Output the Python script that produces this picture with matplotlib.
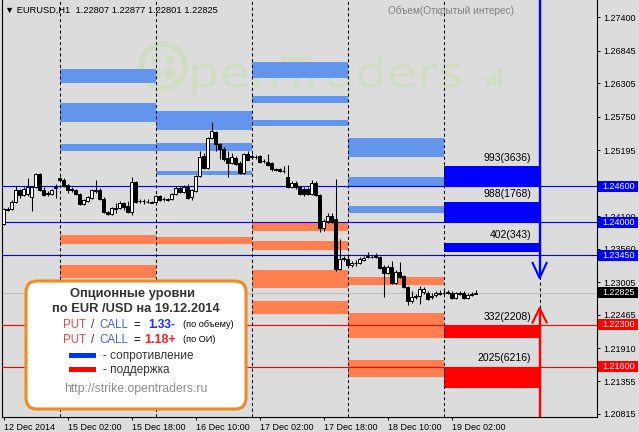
import matplotlib
matplotlib.use('Agg')
import matplotlib.pyplot as plt
import numpy as np
from matplotlib.transforms import Affine2D, blended_transform_factory
from matplotlib.patches import FancyBboxPatch, Rectangle, Circle, PathPatch
from matplotlib.textpath import TextPath
from matplotlib.font_manager import FontProperties

plt.rcParams['font.family'] = ['Liberation Sans', 'DejaVu Sans']

# ---------------- data ----------------
hours = list(range(-14, 105))  # hourly bars, 0 = 15 Dec 00:00

opens = [1.23971, 1.24221, 1.24221, 1.24338, 1.24538, 1.24455, 1.24471, 1.24421, 1.24588, 1.24805, 1.24538, 1.24471, 1.24471, 1.24571,
         1.24738, 1.24705, 1.24621, 1.24555, 1.24538, 1.24471, 1.24305, 1.24355, 1.24405, 1.24521, 1.24538, 1.24388, 1.24171, 1.24138, 1.24221, 1.24238, 1.24321, 1.24271, 1.24171, 1.24671, 1.24355, 1.24345, 1.24338, 1.24338,
         1.24338, 1.24438, 1.24388, 1.24371, 1.24388, 1.24471, 1.24571, 1.24505, 1.24588, 1.24421, 1.24521, 1.24771, 1.25105, 1.24905, 1.25405, 1.25505, 1.25305, 1.25221, 1.25071, 1.24988, 1.25071, 1.24988, 1.24821, 1.25138,
         1.25105, 1.25088, 1.25105, 1.25021, 1.25005, 1.24988, 1.24888, 1.24888, 1.24855, 1.24755, 1.24588, 1.24655, 1.24588, 1.24555, 1.24555, 1.24471, 1.24655, 1.24455, 1.23905, 1.24021, 1.24105, 1.24055, 1.23221, 1.23388,
         1.23388, 1.23288, 1.23321, 1.23321, 1.23371, 1.23421, 1.23421, 1.23421, 1.23421, 1.23255, 1.23155, 1.23255, 1.22988, 1.23171, 1.23105, 1.22921, 1.22688, 1.22755, 1.22771, 1.22838, 1.22821, 1.22755, 1.22788, 1.22821,
         1.22821, 1.22821, 1.22821, 1.22738, 1.22821, 1.22821, 1.22738, 1.22788, 1.22807]
highs = [1.24238, 1.24255, 1.24371, 1.24605, 1.24555, 1.24588, 1.24738, 1.24605, 1.24821, 1.24821, 1.24588, 1.24521, 1.24555, 1.24638,
         1.24755, 1.24738, 1.24638, 1.24588, 1.24555, 1.24488, 1.24388, 1.24438, 1.24555, 1.24705, 1.24571, 1.24421, 1.24188, 1.24255, 1.24321, 1.24355, 1.24338, 1.24355, 1.24755, 1.24688, 1.24388, 1.24388, 1.24388, 1.24355,
         1.24455, 1.24455, 1.24421, 1.24405, 1.24488, 1.24605, 1.24605, 1.24621, 1.24638, 1.24555, 1.24788, 1.25188, 1.25155, 1.25421, 1.25671, 1.25521, 1.25321, 1.25255, 1.25188, 1.25155, 1.25105, 1.25021, 1.25155, 1.25188,
         1.25138, 1.25121, 1.25121, 1.25055, 1.25138, 1.25005, 1.24905, 1.24905, 1.24938, 1.24955, 1.24688, 1.24688, 1.24605, 1.24588, 1.24588, 1.24705, 1.24688, 1.24471, 1.24055, 1.24155, 1.24155, 1.24721, 1.23721, 1.23438,
         1.23438, 1.23355, 1.23371, 1.23421, 1.23438, 1.23505, 1.23455, 1.23488, 1.23438, 1.23288, 1.23288, 1.23355, 1.23205, 1.23338, 1.23121, 1.22938, 1.22855, 1.22805, 1.22938, 1.22921, 1.22855, 1.22821, 1.22855, 1.22871,
         1.22871, 1.22871, 1.22855, 1.22838, 1.22855, 1.22855, 1.22821, 1.22838, 1.22877]
lows = [1.23955, 1.24188, 1.24205, 1.24321, 1.24405, 1.24438, 1.24438, 1.24188, 1.24571, 1.24521, 1.24438, 1.24438, 1.24455, 1.24405,
        1.24688, 1.24588, 1.24488, 1.24505, 1.24455, 1.24288, 1.24288, 1.24338, 1.24388, 1.24488, 1.24371, 1.24155, 1.24121, 1.24121, 1.24155, 1.24221, 1.24205, 1.24155, 1.24121, 1.24321, 1.24321, 1.24305, 1.24321, 1.24321,
        1.24321, 1.24355, 1.24355, 1.24355, 1.24371, 1.24455, 1.24488, 1.24488, 1.24388, 1.24371, 1.24505, 1.24755, 1.24888, 1.24888, 1.25388, 1.25188, 1.25055, 1.25021, 1.24755, 1.24971, 1.24955, 1.24805, 1.24805, 1.25038,
        1.25055, 1.25055, 1.24988, 1.24988, 1.24938, 1.24855, 1.24855, 1.24838, 1.24821, 1.24571, 1.24571, 1.24555, 1.24455, 1.24438, 1.24455, 1.24455, 1.24438, 1.23838, 1.23855, 1.23988, 1.23988, 1.23188, 1.23205, 1.23355,
        1.23255, 1.23255, 1.23271, 1.23305, 1.23355, 1.23405, 1.23405, 1.23405, 1.23221, 1.22755, 1.23138, 1.22971, 1.22971, 1.23071, 1.22905, 1.22621, 1.22655, 1.22721, 1.22638, 1.22805, 1.22705, 1.22721, 1.22755, 1.22788,
        1.22805, 1.22815, 1.22721, 1.22721, 1.22788, 1.22721, 1.22721, 1.22771, 1.22801]
closes = [1.24221, 1.24205, 1.24338, 1.24538, 1.24455, 1.24555, 1.24588, 1.24588, 1.24805, 1.24538, 1.24455, 1.24488, 1.24538, 1.24588,
          1.24705, 1.24605, 1.24538, 1.24538, 1.24471, 1.24305, 1.24371, 1.24421, 1.24538, 1.24538, 1.24388, 1.24171, 1.24138, 1.24238, 1.24238, 1.24321, 1.24255, 1.24171, 1.24671, 1.24338, 1.24345, 1.24350, 1.24330, 1.24325,
          1.24438, 1.24371, 1.24380, 1.24388, 1.24471, 1.24571, 1.24505, 1.24588, 1.24405, 1.24538, 1.24771, 1.25088, 1.24905, 1.25405, 1.25521, 1.25305, 1.25221, 1.25055, 1.24988, 1.25088, 1.24971, 1.24821, 1.25138, 1.25038,
          1.25088, 1.25080, 1.25005, 1.25015, 1.24955, 1.24888, 1.24871, 1.24855, 1.24845, 1.24588, 1.24655, 1.24588, 1.24471, 1.24471, 1.24471, 1.24655, 1.24455, 1.23905, 1.24021, 1.24105, 1.24005, 1.23221, 1.23388, 1.23405,
          1.23288, 1.23321, 1.23315, 1.23388, 1.23405, 1.23438, 1.23415, 1.23438, 1.23238, 1.23155, 1.23255, 1.22988, 1.23171, 1.23088, 1.22921, 1.22688, 1.22755, 1.22771, 1.22888, 1.22888, 1.22721, 1.22771, 1.22821, 1.22815,
          1.22830, 1.22838, 1.22738, 1.22821, 1.22812, 1.22738, 1.22788, 1.22805, 1.22825]

# option level bands of previous days (day index 0 = 15 Dec)
res_day = [0, 0, 0, 1, 1, 1, 2, 2, 2, 3, 3, 3]
res_lo = [1.26316, 1.25668, 1.25187, 1.25531, 1.25187, 1.24788, 1.26399, 1.25984, 1.25602, 1.25087, 1.24601, 1.24157]
res_hi = [1.26543, 1.25974, 1.25298, 1.25846, 1.25315, 1.24855, 1.26664, 1.26095, 1.25697, 1.25403, 1.24745, 1.24269]
sup_day = [0, 0, 1, 2, 2, 2, 2, 3, 3, 3]
sup_lo = [1.23633, 1.23078, 1.23633, 1.23859, 1.23538, 1.22902, 1.22471, 1.22957, 1.22082, 1.21435]
sup_hi = [1.23787, 1.23289, 1.23754, 1.23991, 1.23688, 1.23206, 1.22691, 1.23085, 1.22497, 1.21712]

# current day (19 Dec) levels
cur_day = 4
cur_res_lo = [1.24606, 1.24008, 1.23510]
cur_res_hi = [1.24933, 1.24340, 1.23659]
cur_res_labels = ['993(3636)', '988(1768)', '402(343)']
cur_sup_lo = [1.22082, 1.21242]
cur_sup_hi = [1.22281, 1.21591]
cur_sup_labels = ['332(2208)', '2025(6216)']

res_levels = [1.24600, 1.24000, 1.23450]
sup_levels = [1.22300, 1.21600]
last_price = 1.22825
arrow_down_tip = 1.23073
arrow_up_tip = 1.22575

y_ticks = [1.27400, 1.26845, 1.26305, 1.25750, 1.25195, 1.24650, 1.24100, 1.23560,
           1.23005, 1.22465, 1.21910, 1.21355, 1.20815]
x_tick_hours = [-14, 2, 18, 34, 50, 66, 82, 98]
x_tick_labels = ['12 Dec 2014', '15 Dec 02:00', '15 Dec 18:00', '16 Dec 10:00',
                 '17 Dec 02:00', '17 Dec 18:00', '18 Dec 10:00', '19 Dec 02:00']
day_separators = [0, 24, 48, 72, 96, 120]

# ---------------- figure ----------------
W, H = 639, 432
BG = '#DCDCDC'
LBLUE = '#6495ED'
CORAL = '#FF7F50'
BLUE = '#0000FF'
RED = '#FF0000'

fig = plt.figure(figsize=(W / 100, H / 100), dpi=100, facecolor=BG)
ax = fig.add_axes([2 / W, (H - 417) / H, 595 / W, 417 / H])
ax.set_facecolor(BG)
ax.set_xlim(-14.4, 134.35)
ax.set_ylim(1.20765, 1.27689)
PX = Affine2D().scale(1 / W, -1 / H).translate(0, 1) + fig.transFigure

# watermark
wm = '#cfdec3'
ax.add_patch(Circle((163, 66), 22, transform=PX, fill=False, ec=wm, lw=4, zorder=0.5))
ax.add_patch(Circle((156, 60), 4.5, transform=PX, fc=wm, ec='none', zorder=0.5))
ax.add_patch(Circle((170, 60), 4.5, transform=PX, fc=wm, ec='none', zorder=0.5))
ax.add_patch(Circle((156, 73), 6, transform=PX, fc=wm, ec='none', zorder=0.5))
ax.add_patch(Circle((170, 73), 6, transform=PX, fc=wm, ec='none', zorder=0.5))
tp = TextPath((0, 0), 'penTraders', size=40, prop=FontProperties(family='DejaVu Sans'))
ax.add_patch(PathPatch(tp, transform=Affine2D().scale(1.24, -1.03).translate(188, 87) + PX,
                       fc=wm, ec='none', zorder=0.5))
for bx, bh in zip([486, 492, 498], [8, 13, 18]):
    ax.add_patch(Rectangle((bx, 86 - bh), 4, bh, transform=PX, fc=wm, ec='none', zorder=0.5))

# previous-day bands
for d, lo, hi in zip(res_day, res_lo, res_hi):
    ax.bar(d * 24, hi - lo, width=24, bottom=lo, align='edge', color=LBLUE, lw=0, zorder=1)
for d, lo, hi in zip(sup_day, sup_lo, sup_hi):
    ax.bar(d * 24, hi - lo, width=24, bottom=lo, align='edge', color=CORAL, lw=0, zorder=1)
# current-day bands
for lo, hi, lab in zip(cur_res_lo, cur_res_hi, cur_res_labels):
    ax.bar(cur_day * 24, hi - lo, width=24, bottom=lo, align='edge', color=BLUE, lw=0, zorder=1)
    ax.annotate(lab, xy=(117.85, hi), xytext=(0, 3), textcoords='offset pixels',
                ha='right', va='bottom', fontsize=7.5, color='black', zorder=7)
for lo, hi, lab in zip(cur_sup_lo, cur_sup_hi, cur_sup_labels):
    ax.bar(cur_day * 24, hi - lo, width=24, bottom=lo, align='edge', color=RED, lw=0, zorder=1)
    ax.annotate(lab, xy=(117.85, hi), xytext=(0, 4), textcoords='offset pixels',
                ha='right', va='bottom', fontsize=7.5, color='black', zorder=7)

# day separators
for h in day_separators:
    ax.axvline(h, color='black', lw=0.75, ls=(0, (3, 2.5)), zorder=2)

# level lines
for lv in res_levels:
    ax.axhline(lv, color=BLUE, lw=0.8, zorder=3)
for lv in sup_levels:
    ax.axhline(lv, color=RED, lw=0.8, zorder=3)
ax.axhline(last_price, color='#C0C0C0', lw=0.8, zorder=2.5)

# candles
x = np.array(hours, dtype=float)
o = np.array(opens); hi_ = np.array(highs); lo_ = np.array(lows); c = np.array(closes)
up = c >= o
ax.vlines(x, lo_, hi_, color='black', lw=0.75, zorder=4)
blo = np.minimum(o, c)
bh = np.maximum(np.abs(c - o), 0.00002)
ax.bar(x[up], bh[up], bottom=blo[up], width=0.62, color='white', edgecolor='black', lw=0.7, zorder=5)
ax.bar(x[~up], bh[~up], bottom=blo[~up], width=0.62, color='black', edgecolor='black', lw=0.7, zorder=5)

# arrows
ytop, ybot = ax.get_ylim()[1], ax.get_ylim()[0]
ax.plot([120, 120], [ytop, arrow_down_tip], color=BLUE, lw=1.7, zorder=6, solid_capstyle='butt')
ax.plot([118.25, 120, 121.75], [arrow_down_tip + 0.0025, arrow_down_tip, arrow_down_tip + 0.0025],
        color=BLUE, lw=1.5, zorder=6)
ax.plot([120, 120], [ybot, arrow_up_tip], color=RED, lw=1.7, zorder=6, solid_capstyle='butt')
ax.plot([118.25, 120, 121.75], [arrow_up_tip - 0.0024, arrow_up_tip, arrow_up_tip - 0.0024],
        color=RED, lw=1.5, zorder=6)

# axes styling
for s in ['left', 'right', 'bottom']:
    ax.spines[s].set_color('black')
    ax.spines[s].set_linewidth(0.8)
ax.spines['top'].set_visible(False)
ax.yaxis.tick_right()
ax.set_yticks(y_ticks)
ax.set_yticklabels([f'{v:.5f}' for v in y_ticks])
ax.tick_params(axis='y', direction='out', length=2.2, width=0.72, pad=2, labelsize=6.5, colors='black')
ax.set_xticks(x_tick_hours)
ax.set_xticklabels(x_tick_labels, ha='left')
ax.tick_params(axis='x', direction='out', length=2.2, width=0.72, pad=2, labelsize=6.5, colors='black')
for lab in ax.get_xticklabels():
    lab.set_x(0)

# price tags on the right axis
blend = blended_transform_factory(PX, ax.transData)
tag_h = 11 / 6023
for price, col in [(res_levels[0], BLUE), (res_levels[1], BLUE), (res_levels[2], BLUE),
                   (last_price, 'black'), (sup_levels[0], RED), (sup_levels[1], RED)]:
    ax.add_patch(Rectangle((598, price - tag_h / 2), 40, tag_h, transform=blend,
                           fc=col, ec='none', zorder=8, clip_on=False))
    ax.text(618.5, price, f'{price:.5f}', transform=blend, ha='center', va='center',
            fontsize=6.5, color='white', zorder=9, clip_on=False)

# header texts
ax.text(5, 10.5, '▼ EURUSD,H1  1.22807 1.22877 1.22801 1.22825', transform=PX,
        ha='left', va='center', fontsize=6.7, color='black', zorder=9)
ax.text(388, 10.5, 'Объем(Открытый интерес)', transform=PX, ha='left', va='center',
        fontsize=7.2, color='#808080', zorder=9)

# info box
ax.add_patch(FancyBboxPatch((26, 281), 220, 128, boxstyle='round,pad=0,rounding_size=11',
                            transform=PX, fc='white', ec='#F08A24', lw=2.2, zorder=10, clip_on=False))
T = dict(transform=PX, zorder=11, clip_on=False)
ax.text(133, 297, 'Опционные уровни', ha='center', va='baseline', fontsize=9.3,
        fontweight='bold', color='#333333', **T)
ax.text(136, 311.5, 'по EUR /USD на 19.12.2014', ha='center', va='baseline', fontsize=9.3,
        fontweight='bold', color='#333333', **T)
PUTC, CALLC = '#E5484D', '#4463CF'
for yb, val, vcol, vx, note in [(327.7, '1.33-', '#1F2BFF', 148, '(по объему)'),
                                 (342.7, '1.18+', '#FF1F1F', 144, '(по ОИ)')]:
    ax.text(63.5, yb, 'PUT', ha='left', va='baseline', fontsize=8.3, color=PUTC, **T)
    ax.text(91, yb, '/', ha='left', va='baseline', fontsize=8.3, color='#333333', **T)
    ax.text(99, yb, 'CALL', ha='left', va='baseline', fontsize=8.3, color=CALLC, **T)
    ax.text(133.5, yb, '=', ha='left', va='baseline', fontsize=8.3, color='black', **T)
    ax.text(vx, yb, val, ha='left', va='baseline', fontsize=9 if val.endswith('+') else 8.6,
            fontweight='bold', color=vcol, **T)
    ax.text(183, yb - 0.5, note, ha='left', va='baseline', fontsize=6.6, color='black', **T)
ax.add_patch(Rectangle((69, 352.7), 27, 4.8, transform=PX, fc='#0033FF', ec='none', zorder=11, clip_on=False))
ax.add_patch(Rectangle((69, 367.2), 27, 4.8, transform=PX, fc=RED, ec='none', zorder=11, clip_on=False))
ax.text(103, 358.5, '- сопротивление', ha='left', va='baseline', fontsize=8.5, color='#333333', **T)
ax.text(103, 373, '- поддержка', ha='left', va='baseline', fontsize=8.5, color='#333333', **T)
ax.text(136, 392, 'http://strike.opentraders.ru', ha='center', va='baseline', fontsize=8.8,
        color='#8C8C8C', **T)

fig.savefig('out.png', dpi=100, facecolor=BG)
